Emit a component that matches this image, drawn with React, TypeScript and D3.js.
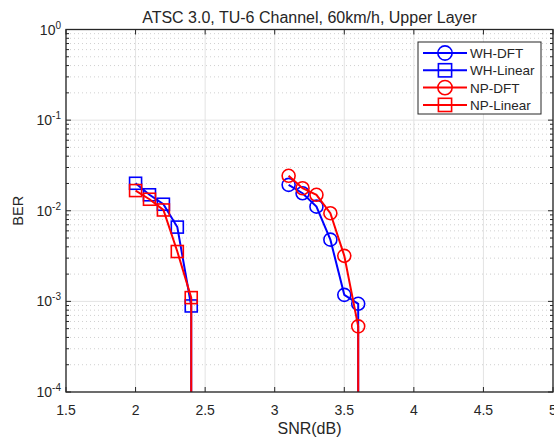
import React from "react";
import * as d3 from "d3";

const title = "ATSC 3.0, TU-6 Channel, 60km/h, Upper Layer";
const xTicks = [1.5, 2, 2.5, 3, 3.5, 4, 4.5, 5];
const yExponents = [0, -1, -2, -3, -4];

const snrLinear = [2, 2.1, 2.2, 2.3, 2.4, 2.4];
const snrDFT = [3.1, 3.2, 3.3, 3.4, 3.5, 3.6, 3.6];
const whDFT = [0.0193, 0.0156, 0.0111, 0.0048, 0.00118, 0.00094, 1e-7];
const whLinear = [0.0201, 0.015, 0.0118, 0.0066, 0.00089, 1e-7];
const npDFT = [0.0243, 0.0177, 0.015, 0.0094, 0.00318, 0.00053, 1e-7];
const npLinear = [0.0167, 0.0134, 0.0102, 0.00355, 0.0011, 1e-7];

const seriesNames = ["WH-DFT", "WH-Linear", "NP-DFT", "NP-Linear"];
const seriesColors = ["#0000ff", "#0000ff", "#ff0000", "#ff0000"];
const seriesMarkers = ["circle", "square", "circle", "square"];

export default function App() {
  const W = 554, H = 438;
  const L = 66, R = 553, T = 29.5, B = 392;
  const x = d3.scaleLinear().domain([1.5, 5]).range([L, R]);
  const y = d3.scaleLog().domain([1e-4, 1]).range([B, T]);
  const font = "'Liberation Sans', Arial, sans-serif";
  const txt = "#262626";

  const series = [
    { xs: snrDFT, ys: whDFT },
    { xs: snrLinear, ys: whLinear },
    { xs: snrDFT, ys: npDFT },
    { xs: snrLinear, ys: npLinear },
  ];
  const order = [1, 0, 3, 2];

  const minorY: number[] = [];
  for (let e = -4; e < 0; e++) for (let k = 2; k <= 9; k++) minorY.push(k * Math.pow(10, e));

  const line = d3.line<[number, number]>().x((d) => x(d[0])).y((d) => y(d[1]));

  const marker = (type: string, cx: number, cy: number, color: string, key: any, s = 1) =>
    type === "circle" ? (
      <circle key={key} cx={cx} cy={cy} r={6.5 * s} fill="none" stroke={color} strokeWidth={1.6} />
    ) : (
      <rect key={key} x={cx - 6 * s} y={cy - 6 * s} width={12 * s} height={12 * s} fill="none" stroke={color} strokeWidth={1.6} />
    );

  return (
    <svg width={W} height={H} style={{ position: "absolute", left: 0, top: 0 }} fontFamily={font}>
      <rect width={W} height={H} fill="#fff" />
      <defs>
        <clipPath id="plotclip">
          <rect x={L} y={T} width={R - L} height={B - T} />
        </clipPath>
      </defs>
      {minorY.map((v, i) => (
        <line key={"mg" + i} x1={L} x2={R} y1={y(v)} y2={y(v)} stroke="#d0d0d0" strokeWidth={1} strokeDasharray="1,3" />
      ))}
      {xTicks.map((v, i) => (
        <line key={"gx" + i} x1={x(v)} x2={x(v)} y1={T} y2={B} stroke="#e3e3e3" strokeWidth={1} />
      ))}
      {yExponents.map((e, i) => (
        <line key={"gy" + i} x1={L} x2={R} y1={y(Math.pow(10, e))} y2={y(Math.pow(10, e))} stroke="#e3e3e3" strokeWidth={1} />
      ))}
      <g clipPath="url(#plotclip)">
        {order.map((si) => {
          const s = series[si];
          const pts = s.xs.map((xv, j) => [xv, s.ys[j]] as [number, number]);
          return (
            <g key={"s" + si}>
              <path d={line(pts) || ""} fill="none" stroke={seriesColors[si]} strokeWidth={2} />
              {pts
                .filter((p) => p[1] >= 1e-4)
                .map((p, j) => marker(seriesMarkers[si], x(p[0]), y(p[1]), seriesColors[si], j))}
            </g>
          );
        })}
      </g>
      <rect x={L} y={T} width={R - L} height={B - T} fill="none" stroke="#262626" strokeWidth={1.3} />
      {xTicks.map((v, i) => (
        <g key={"xt" + i}>
          <line x1={x(v)} x2={x(v)} y1={B} y2={B - 5} stroke="#262626" />
          <line x1={x(v)} x2={x(v)} y1={T} y2={T + 5} stroke="#262626" />
          <text x={x(v)} y={415} fontSize={14} fill={txt} textAnchor="middle">
            {v}
          </text>
        </g>
      ))}
      {yExponents.map((e, i) => (
        <g key={"yt" + i}>
          <line x1={L} x2={L + 5} y1={y(Math.pow(10, e))} y2={y(Math.pow(10, e))} stroke="#262626" />
          <line x1={R} x2={R - 5} y1={y(Math.pow(10, e))} y2={y(Math.pow(10, e))} stroke="#262626" />
          <text x={L - 5} y={y(Math.pow(10, e)) + 5} fontSize={14} fill={txt} textAnchor="end">
            10<tspan fontSize={10} dy={-6}>{e}</tspan>
          </text>
        </g>
      ))}
      {minorY.map((v, i) => (
        <g key={"ym" + i}>
          <line x1={L} x2={L + 3} y1={y(v)} y2={y(v)} stroke="#262626" />
          <line x1={R} x2={R - 3} y1={y(v)} y2={y(v)} stroke="#262626" />
        </g>
      ))}
      <text x={(L + R) / 2} y={22.5} fontSize={16} fill={txt} textAnchor="middle">
        {title}
      </text>
      <text x={(L + R) / 2} y={434} fontSize={16} fill={txt} textAnchor="middle">
        SNR(dB)
      </text>
      <text transform={`translate(23,${(T + B) / 2}) rotate(-90)`} fontSize={14.5} fill={txt} textAnchor="middle">
        BER
      </text>
      <rect x={418} y={42} width={123} height={72} fill="#fff" stroke="#262626" strokeWidth={1} />
      {seriesNames.map((n, i) => {
        const ly = 53 + i * 17.3;
        return (
          <g key={"lg" + i}>
            <line x1={423} x2={467} y1={ly} y2={ly} stroke={seriesColors[i]} strokeWidth={2} />
            {marker(seriesMarkers[i], 445, ly, seriesColors[i], "m", 1.1)}
            <text x={470} y={ly + 5} fontSize={13.5} fill={txt}>
              {n}
            </text>
          </g>
        );
      })}
    </svg>
  );
}
